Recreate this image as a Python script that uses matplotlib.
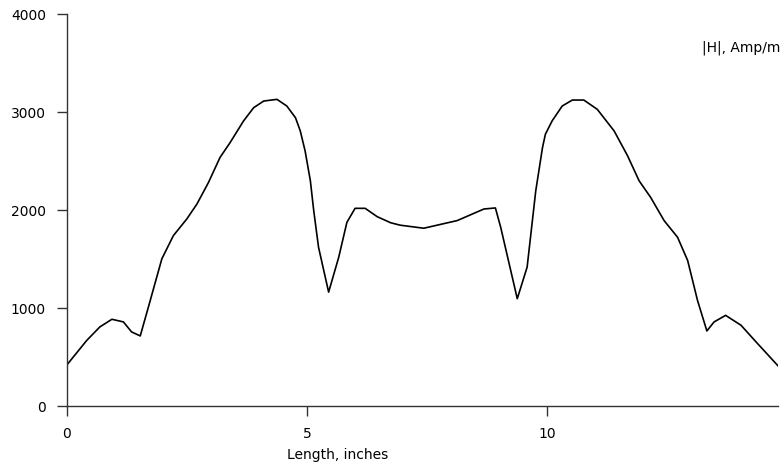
import matplotlib
matplotlib.use("Agg")
import matplotlib.pyplot as plt

length_in = [0.0, 0.42, 0.69, 0.94, 1.18, 1.35, 1.53, 1.70, 1.98, 2.22, 2.50, 2.71,
             2.95, 3.19, 3.40, 3.68, 3.89, 4.10, 4.375, 4.58, 4.76, 4.86, 4.96, 5.07,
             5.14, 5.24, 5.45, 5.66, 5.83, 6.0, 6.21, 6.46, 6.74, 6.94, 7.43, 8.125,
             8.68, 8.92, 9.03, 9.375, 9.58, 9.76, 9.90, 9.96, 10.10, 10.31, 10.52,
             10.76, 11.04, 11.39, 11.67, 11.91, 12.15, 12.43, 12.71, 12.92, 13.125,
             13.32, 13.47, 13.71, 14.03, 14.375, 14.80]
h_amp_m = [417, 671, 807, 885, 858, 756, 715, 1010, 1502, 1739, 1909, 2061,
           2281, 2536, 2688, 2909, 3044, 3112, 3129, 3061, 2942, 2807, 2604, 2298,
           1993, 1620, 1162, 1518, 1874, 2017, 2017, 1932, 1870, 1845, 1814, 1892,
           2010, 2021, 1824, 1095, 1417, 2197, 2637, 2773, 2909, 3061, 3122,
           3122, 3027, 2807, 2553, 2298, 2129, 1892, 1722, 1485, 1078,
           766, 858, 925, 824, 637, 410]

x_ticks = [0, 5, 10]
y_ticks = [0, 1000, 2000, 3000, 4000]

fig = plt.figure(figsize=(7.83, 4.75), dpi=100)
ax = fig.add_axes([66.7 / 783, 1 - 406 / 475, (778 - 66.7) / 783, (406 - 14) / 475])
ax.plot(length_in, h_amp_m, color="black", lw=1.2, solid_joinstyle="round")
ax.set_xlim(0, 14.8)
ax.set_ylim(0, 4000)
ax.set_xticks(x_ticks)
ax.set_yticks(y_ticks)
for s in ["top", "right"]:
    ax.spines[s].set_visible(False)
for s in ["left", "bottom"]:
    ax.spines[s].set_color("#333333")
    ax.spines[s].set_linewidth(1.0)
ax.tick_params(direction="out", length=7, width=1, color="#333333",
               labelsize=10, pad=8)
fig.text(338 / 783, 1 - 455 / 475, "Length, inches", ha="center", va="center", fontsize=10)
fig.text(780 / 783, 1 - 48 / 475, "|H|, Amp/m", ha="right", va="center", fontsize=10)
fig.savefig("out.png", dpi=100)
